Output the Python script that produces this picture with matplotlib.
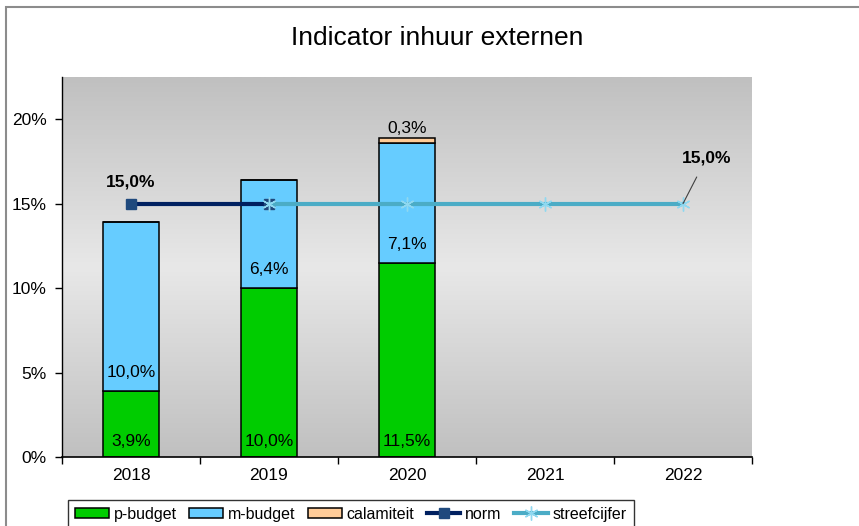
import matplotlib.pyplot as plt
import numpy as np
from matplotlib.colors import LinearSegmentedColormap
from matplotlib.patches import Rectangle

plt.rcParams['font.family'] = ['Liberation Sans', 'DejaVu Sans']

years = ['2018', '2019', '2020', '2021', '2022']
p_budget = [3.9, 10.0, 11.5]
m_budget = [10.0, 6.4, 7.1]
calamiteit = [0.0, 0.0, 0.3]
norm = [15.0, 15.0]
streefcijfer = [15.0, 15.0, 15.0, 15.0]

fig = plt.figure(figsize=(8.59, 5.26), dpi=100)
# outer frame of the chart object
fig.add_artist(Rectangle((6 / 859, -0.1), 1.2, (526 - 7) / 526 + 0.1, transform=fig.transFigure,
                         fill=False, edgecolor='#8c8c8c', linewidth=1.5))

ax = fig.add_axes([62 / 859, (526 - 457) / 526, 690 / 859, 380 / 526])
ax.set_xlim(0, 5)
ax.set_ylim(0, 22.5)

# grey gradient background
cmap = LinearSegmentedColormap.from_list('bg', ['#c0c0c0', '#e8e8e8', '#c0c0c0'])
grad = np.linspace(0, 1, 256).reshape(-1, 1)
ax.imshow(grad, cmap=cmap, aspect='auto', extent=[0, 5, 0, 22.5], origin='lower', zorder=0)

x = np.arange(3) + 0.5
w = 0.41
bottom2 = [a + b for a, b in zip(p_budget, m_budget)]
b1 = ax.bar(x, p_budget, w, color='#00cc00', edgecolor='black', linewidth=1.1, zorder=2, label='p-budget')
b2 = ax.bar(x, m_budget, w, bottom=p_budget, color='#66ccff', edgecolor='black', linewidth=1.1, zorder=2,
            label='m-budget')
b3 = ax.bar(x, calamiteit, w, bottom=bottom2, color='#ffcc99', edgecolor='black', linewidth=1.1, zorder=2,
            label='calamiteit')

xn = np.arange(len(norm)) + 0.5
l1, = ax.plot(xn, norm, color='#002060', linewidth=3, marker='s', markersize=7, markerfacecolor='#1f497d',
              markeredgecolor='#1f497d', zorder=3, label='norm')
xs = np.arange(1, 1 + len(streefcijfer)) + 0.5
l2, = ax.plot(xs, streefcijfer, color='#4bacc6', linewidth=3, marker=(6, 2, 0), markersize=10,
              markeredgecolor='#8fd8f0', markeredgewidth=1, zorder=3, label='streefcijfer')

def fmt(v):
    return f'{v:.1f}%'.replace('.', ',')

fs = 12.5
for i in range(3):
    ax.text(x[i], 0.9, fmt(p_budget[i]), ha='center', va='center', fontsize=fs, zorder=4)
    ax.text(x[i], p_budget[i] + 1.1, fmt(m_budget[i]), ha='center', va='center', fontsize=fs, zorder=4)
    if calamiteit[i] > 0:
        ax.text(x[i], bottom2[i] + calamiteit[i] + 0.55, fmt(calamiteit[i]), ha='center', va='center',
                fontsize=fs, zorder=4)

ax.text(xn[0], 16.3, fmt(norm[0]), ha='center', va='center', fontsize=fs, fontweight='bold', zorder=4)
ax.annotate(fmt(streefcijfer[-1]), xy=(xs[-1], streefcijfer[-1]), xytext=(xs[-1] + 0.17, 17.7),
            ha='center', va='center', fontsize=fs, fontweight='bold', zorder=4,
            arrowprops=dict(arrowstyle='-', color='#404040', linewidth=0.8, shrinkA=7, shrinkB=0))

ax.set_xticks([0, 1, 2, 3, 4, 5])
ax.set_xticklabels([])
ax.set_xticks(np.arange(5) + 0.5, minor=True)
ax.set_xticklabels(years, minor=True, fontsize=fs)
ax.tick_params(axis='x', which='major', direction='out', length=5, width=1)
ax.tick_params(axis='x', which='minor', length=0, pad=8)
ax.set_yticks([0, 5, 10, 15, 20])
ax.set_yticklabels(['0%', '5%', '10%', '15%', '20%'], fontsize=fs)
ax.tick_params(axis='y', direction='out', length=5, width=1, pad=6)
for s in ['top', 'right']:
    ax.spines[s].set_visible(False)
ax.spines['left'].set_linewidth(1)
ax.spines['bottom'].set_linewidth(1.2)

fig.text(437 / 859, 1 - 38 / 526, 'Indicator inhuur externen', ha='center', va='center', fontsize=19)

leg = fig.legend([b1, b2, b3, l1, l2], ['p-budget', 'm-budget', 'calamiteit', 'norm', 'streefcijfer'],
                 loc='lower left', bbox_to_anchor=(68 / 859, -3 / 526), borderaxespad=0, ncol=5,
                 frameon=True, fancybox=False, edgecolor='black', fontsize=11.5, handlelength=2.1,
                 handleheight=0.6, handletextpad=0.3, columnspacing=0.8, borderpad=0.45)
leg.get_frame().set_linewidth(1)

fig.savefig('out.png', dpi=100)
